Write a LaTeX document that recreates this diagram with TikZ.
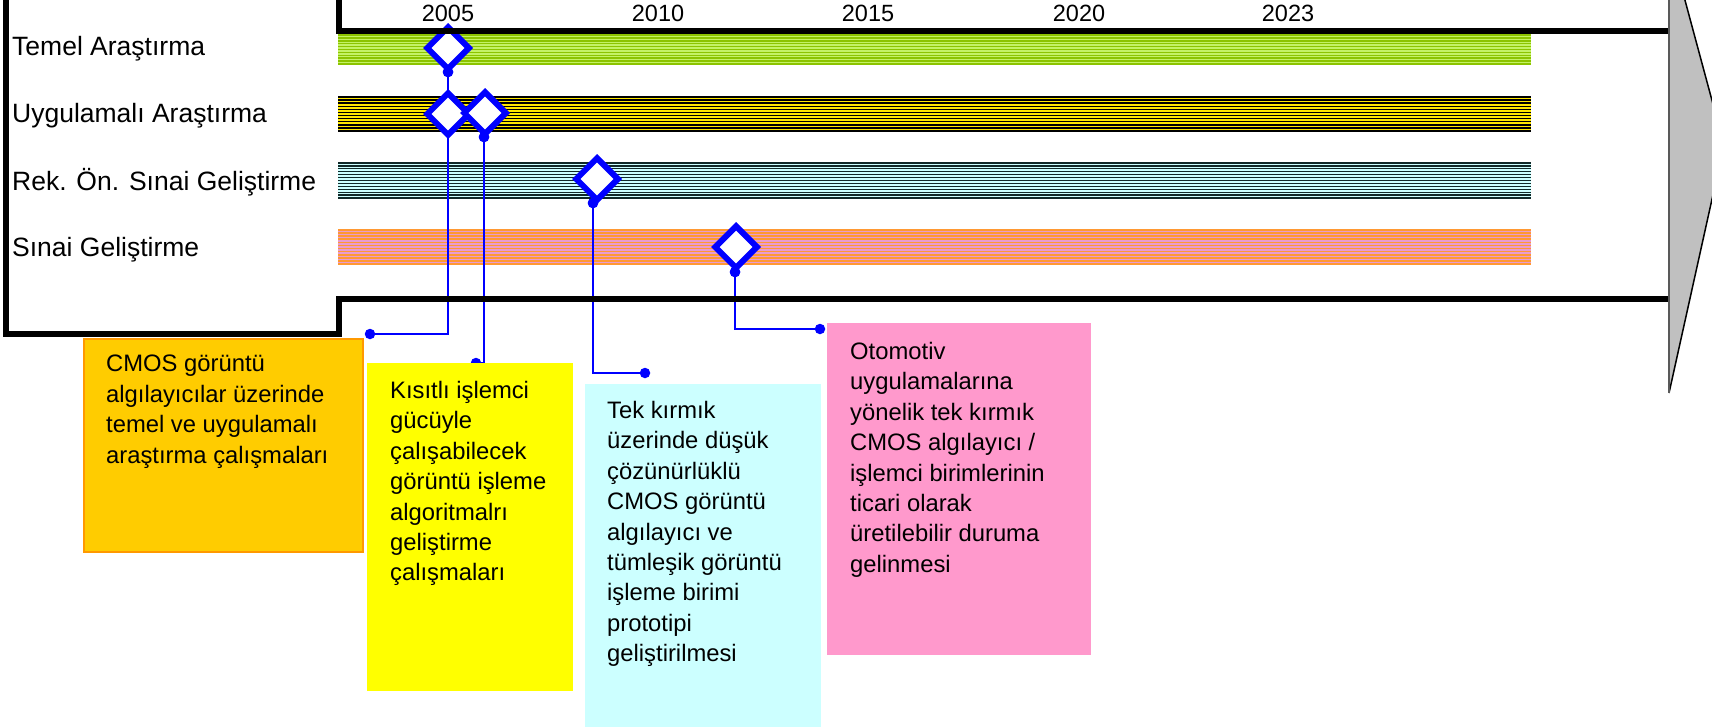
\documentclass[tikz,border=0pt]{standalone}
\usepackage{fontspec}
\setmainfont{Liberation Sans}
\usetikzlibrary{shapes.geometric}

\definecolor{msblue}{HTML}{0000FF}
\definecolor{greenlight}{HTML}{C4F266}
\definecolor{greendark}{HTML}{8CC400}
\definecolor{bandyellow}{HTML}{FFE800}
\definecolor{tealbase}{HTML}{CCFFFF}
\definecolor{teallines}{HTML}{102828}
\definecolor{pinkbase}{HTML}{E89BD0}
\definecolor{orangelines}{HTML}{FF9933}
\definecolor{arrowgray}{HTML}{C0C0C0}
\definecolor{noteorange}{HTML}{FFCC00}
\definecolor{noteorangeedge}{HTML}{FF9900}
\definecolor{noteyellow}{HTML}{FFFF00}
\definecolor{notecyan}{HTML}{CCFFFF}
\definecolor{notepink}{HTML}{FF99CC}

% striped horizontal band: top, bottom, base colour, line colour, line count, line width
\newcommand\stripeband[6]{%
  \fill[#3] (338,#1) rectangle (1531,#2);
  \foreach \k in {0,...,#5}{%
    \pgfmathsetmacro\yy{#1+(#2-#1)*\k/#5}
    \draw[#4, line width=#6] (338,\yy) -- (1531,\yy);
  }%
}

\begin{document}
\begin{tikzpicture}[x=1pt,y=-1pt,
  rowlabel/.style={anchor=base west, inner sep=0, font=\fontsize{26.5}{32}\selectfont},
  yearlabel/.style={inner sep=0, font=\fontsize{23.5}{28}\selectfont},
  milestone/.style={diamond, aspect=1, draw=msblue, fill=white, line width=6pt,
                    minimum size=44pt, inner sep=0},
  dot/.style={circle, fill=msblue, inner sep=0, minimum size=10.5pt},
  link/.style={draw=msblue, line width=2pt},
  frame/.style={line width=5.5pt, line join=miter},
  notetext/.style={anchor=north west, inner sep=0, align=left,
                   font=\fontsize{23.8}{30.4}\selectfont},
]
\clip (0,0) rectangle (1712,726);
\fill[white] (0,0) rectangle (1712,726);

% phase bands
\stripeband{35}{64}{greenlight}{greendark}{10}{1.5pt}
\stripeband{97}{131}{bandyellow}{black}{11}{1.4pt}
\stripeband{163}{198}{tealbase}{teallines}{12}{1.3pt}
\stripeband{230}{264}{pinkbase}{orangelines}{11}{1.6pt}

% anchor points below the milestones
\node[dot] (p1) at (448,72) {};
\node[dot] (p2) at (484,137) {};
\node[dot] (p3) at (593,203) {};
\node[dot] (p4) at (735,272) {};

% note ends
\node[dot] (e1) at (370,334) {};
\node[dot] (e2) at (476,363) {};
\node[dot] (e3) at (645,373) {};
\node[dot] (e4) at (820,329) {};

% leader lines
\draw[link] (p1.center) |- (e1.center);
\draw[link] (p2.center) |- (e2.center);
\draw[link] (p3.center) |- (e3.center);
\draw[link] (p4.center) |- (e4.center);

% milestones
\node[milestone] (m1) at (448,48) {};
\node[milestone] (m2) at (448,114) {};
\node[milestone] (m3) at (485,113) {};
\node[milestone] (m4) at (597,179) {};
\node[milestone] (m5) at (736,247) {};

% redraw the dots over the milestone outlines
\node[dot] at (p1) {};
\node[dot] at (p2) {};
\node[dot] at (p3) {};
\node[dot] at (p4) {};

% timeline frame
\draw[frame] (6,-10) -- (6,334) -- (339,334) -- (339,299) -- (1669,299);
\draw[frame] (339,-10) -- (339,31) -- (1669,31);

% arrow head
\coordinate (atop) at (1669,-59);
\coordinate (atip) at (1724,145);
\coordinate (abot) at (1669,393);
\fill[arrowgray] (atop) -- (atip) -- (abot) -- cycle;
\draw[black, line width=1.5pt, line join=miter] (atop) -- (atip) -- (abot);
\draw[gray!70!black, line width=2pt] (atop) -- (abot);

% years
\node[yearlabel] (y2005) at (448,13) {2005};
\node[yearlabel] (y2010) at (658,13) {2010};
\node[yearlabel] (y2015) at (868,13) {2015};
\node[yearlabel] (y2020) at (1079,13) {2020};
\node[yearlabel] (y2023) at (1288,13) {2023};

% row labels
\node[rowlabel] (r1) at (12,55) {Temel Araştırma};
\node[rowlabel] (r2) at (12,122) {Uygulamalı Araştırma};
\node[rowlabel] (r3) at (12,190) {Rek. Ön. Sınai Geliştirme};
\node[rowlabel] (r4) at (12,256) {Sınai Geliştirme};

% notes
\filldraw[fill=noteorange, draw=noteorangeedge, line width=2pt] (84,339) rectangle (363,552);
\node[notetext] (n1) at (106,355) {CMOS görüntü\\algılayıcılar üzerinde\\temel ve uygulamalı\\araştırma çalışmaları};

\fill[noteyellow] (367,363) rectangle (573,691);
\node[notetext] (n2) at (390,381) {Kısıtlı işlemci\\gücüyle\\çalışabilecek\\görüntü işleme\\algoritmalrı\\geliştirme\\çalışmaları};

\fill[notecyan] (585,384) rectangle (821,730);
\node[notetext] (n3) at (607,401) {Tek kırmık\\üzerinde düşük\\çözünürlüklü\\CMOS görüntü\\algılayıcı ve\\tümleşik görüntü\\işleme birimi\\prototipi\\geliştirilmesi};

\fill[notepink] (827,323) rectangle (1091,655);
\node[notetext] (n4) at (850,342) {Otomotiv\\uygulamalarına\\yönelik tek kırmık\\CMOS algılayıcı /\\işlemci birimlerinin\\ticari olarak\\üretilebilir duruma\\gelinmesi};
\end{tikzpicture}
\end{document}
